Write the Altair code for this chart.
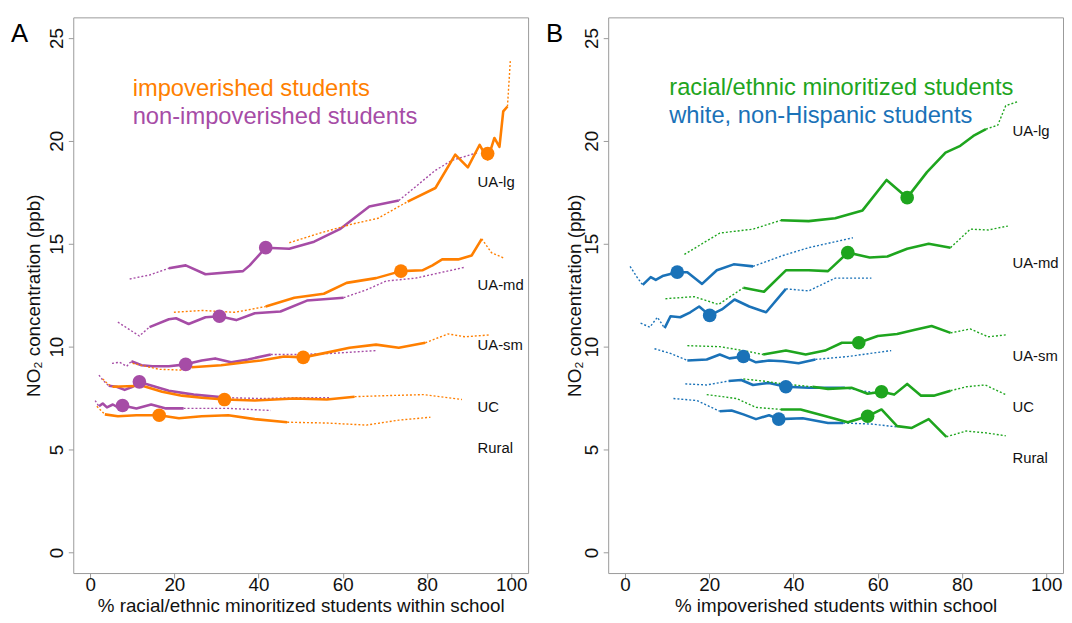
import altair as alt
import pandas as pd

FONT = "Liberation Sans"
COL = {"non": "#a64ca6", "imp": "#ff7f00", "wht": "#1a72b8", "min": "#1ea51e"}

# ---------------- Panel A : x = % racial/ethnic minoritized students ----------------
# non-impoverished students (purple)
A_non_UAlg_x = [9.4, 14.1, 18.7, 22.7, 27.4, 36.3, 37.9, 41.7, 47.3, 53.2, 59.3, 66.3, 73.3, 82.0, 85.9, 92.0]
A_non_UAlg_y = [13.29, 13.48, 13.81, 13.95, 13.52, 13.67, 13.95, 14.81, 14.76, 15.10, 15.71, 16.81, 17.10, 18.57, 19.05, 19.43]
A_non_UAlg_solid = (2, 12)
A_non_UAmd_x = [6.6, 11.7, 14.1, 18.7, 20.4, 23.4, 27.4, 30.7, 34.7, 39.1, 45.2, 51.5, 60.2, 65.6, 70.3, 77.3, 89.0]
A_non_UAmd_y = [11.19, 10.52, 10.95, 11.33, 11.38, 11.10, 11.43, 11.48, 11.29, 11.62, 11.71, 12.24, 12.38, 12.76, 13.19, 13.33, 13.86]
A_non_UAmd_solid = (2, 12)
A_non_UAsm_x = [5.2, 7.0, 8.7, 9.8, 12.2, 14.8, 18.7, 22.7, 26.5, 29.7, 33.5, 37.5, 42.9, 49.9, 56.9, 67.9]
A_non_UAsm_y = [9.19, 9.24, 9.05, 9.29, 9.10, 9.05, 9.05, 9.14, 9.33, 9.43, 9.24, 9.38, 9.62, 9.62, 9.67, 9.81]
A_non_UAsm_solid = (3, 12)
A_non_UC_x = [2.1, 3.0, 4.4, 6.3, 8.2, 10.1, 11.7, 14.1, 18.7, 24.6, 32.8, 41.0, 49.2, 56.9]
A_non_UC_y = [8.62, 8.38, 8.10, 8.05, 7.90, 8.05, 8.29, 8.14, 7.86, 7.67, 7.52, 7.48, 7.52, 7.52]
A_non_UC_solid = (2, 10)
A_non_Rural_x = [1.2, 2.1, 3.0, 4.0, 5.4, 6.6, 7.7, 11.0, 14.5, 18.0, 22.2, 32.8, 42.9]
A_non_Rural_y = [7.38, 7.10, 7.24, 7.05, 7.19, 7.05, 7.14, 7.00, 7.19, 7.00, 7.00, 7.00, 6.90]
A_non_Rural_solid = (1, 10)

# impoverished students (orange)
A_imp_UAlg_x = [47.3, 54.6, 62.1, 68.4, 75.4, 82.0, 86.7, 89.7, 92.5, 94.4, 96.0, 97.2, 98.1, 99.1, 99.8]
A_imp_UAlg_y = [15.05, 15.52, 15.95, 16.24, 17.05, 17.71, 19.33, 18.71, 19.81, 19.10, 20.14, 19.71, 21.43, 21.67, 23.95]
A_imp_UAlg_solid = (4, 13)
A_imp_UAmd_x = [19.9, 26.5, 34.4, 41.7, 48.5, 55.5, 60.9, 67.9, 73.8, 78.9, 81.3, 83.6, 87.4, 90.6, 93.0, 95.3, 98.4]
A_imp_UAmd_y = [11.67, 11.76, 11.67, 11.95, 12.38, 12.57, 13.10, 13.33, 13.67, 13.71, 13.95, 14.24, 14.24, 14.43, 15.24, 14.57, 14.29]
A_imp_UAmd_solid = (3, 14)
A_imp_UAsm_x = [10.1, 16.4, 22.0, 24.1, 31.1, 40.5, 46.1, 50.6, 56.2, 61.6, 67.9, 73.3, 79.6, 85.0, 89.0, 94.8]
A_imp_UAsm_y = [9.19, 8.90, 8.86, 9.00, 9.10, 9.33, 9.52, 9.48, 9.71, 9.95, 10.10, 9.95, 10.19, 10.62, 10.48, 10.57]
A_imp_UAsm_solid = (3, 12)
A_imp_UC_x = [3.0, 4.2, 5.4, 12.4, 17.1, 21.8, 26.5, 31.9, 39.1, 48.5, 56.2, 62.8, 70.3, 79.2, 88.3]
A_imp_UC_y = [8.43, 8.19, 8.05, 8.10, 7.81, 7.62, 7.52, 7.43, 7.38, 7.48, 7.43, 7.57, 7.62, 7.67, 7.43]
A_imp_UC_solid = (2, 11)
A_imp_Rural_x = [1.6, 3.5, 6.6, 11.0, 16.4, 21.1, 26.5, 32.8, 39.1, 46.8, 56.2, 65.6, 73.3, 80.8]
A_imp_Rural_y = [7.10, 6.71, 6.62, 6.67, 6.67, 6.52, 6.62, 6.67, 6.48, 6.33, 6.29, 6.19, 6.43, 6.57]
A_imp_Rural_solid = (1, 9)

# group means (large dots), order UA-lg, UA-md, UA-sm, UC, Rural
A_non_dot_x = [41.7, 30.7, 22.7, 11.7, 7.7]
A_non_dot_y = [14.81, 11.48, 9.14, 8.29, 7.14]
A_imp_dot_x = [94.4, 73.8, 50.6, 31.9, 16.4]
A_imp_dot_y = [19.38, 13.67, 9.48, 7.43, 6.67]

# ---------------- Panel B : x = % impoverished students ----------------
# white, non-Hispanic students (blue)
B_wht_UAlg_x = [1.2, 3.0, 4.2, 6.1, 7.3, 8.9, 12.4, 14.8, 18.3, 21.8, 25.8, 30.4, 37.5, 43.6, 54.1]
B_wht_UAlg_y = [13.90, 13.33, 13.00, 13.38, 13.24, 13.43, 13.62, 13.62, 13.05, 13.71, 14.00, 13.90, 14.43, 14.81, 15.29]
B_wht_UAlg_solid = (2, 11)
B_wht_UAmd_x = [3.7, 5.9, 7.7, 9.4, 10.8, 13.1, 15.5, 17.6, 20.1, 23.0, 26.0, 29.5, 33.5, 38.2, 43.6, 49.9, 58.5]
B_wht_UAmd_y = [11.14, 10.95, 11.43, 10.90, 11.48, 11.43, 11.67, 11.95, 11.52, 11.81, 12.29, 11.95, 11.67, 12.81, 12.71, 13.33, 13.33]
B_wht_UAmd_solid = (3, 13)
B_wht_UAsm_x = [7.0, 10.8, 14.8, 19.4, 22.5, 24.8, 28.1, 31.1, 34.2, 37.5, 41.2, 45.2, 52.9, 63.2]
B_wht_UAsm_y = [9.90, 9.67, 9.33, 9.38, 9.62, 9.43, 9.52, 9.24, 9.33, 9.29, 9.19, 9.38, 9.52, 9.81]
B_wht_UAsm_solid = (2, 11)
B_wht_UC_x = [14.3, 19.4, 24.6, 27.6, 30.4, 34.2, 38.2, 43.6, 52.2, 56.2, 59.3]
B_wht_UC_y = [8.19, 8.14, 8.33, 8.38, 8.14, 8.24, 8.05, 8.00, 8.00, 7.86, 7.76]
B_wht_UC_solid = (2, 8)
B_wht_Rural_x = [11.5, 17.1, 22.5, 25.3, 28.1, 31.1, 34.2, 36.5, 42.2, 48.2, 51.8, 58.5, 64.6]
B_wht_Rural_y = [7.48, 7.38, 6.86, 6.90, 6.71, 6.48, 6.67, 6.48, 6.52, 6.29, 6.29, 6.24, 6.10]
B_wht_Rural_solid = (2, 10)

# racial/ethnic minoritized students (green)
B_min_UAlg_x = [14.1, 22.5, 30.4, 37.0, 43.6, 49.9, 56.4, 62.1, 67.0, 71.7, 76.1, 79.6, 82.7, 85.7, 88.5, 90.4, 93.2]
B_min_UAlg_y = [14.48, 15.52, 15.71, 16.14, 16.10, 16.24, 16.62, 18.10, 17.24, 18.48, 19.43, 19.76, 20.24, 20.57, 20.76, 21.71, 21.90]
B_min_UAlg_solid = (3, 13)
B_min_UAmd_x = [9.6, 16.4, 22.2, 28.1, 33.0, 38.2, 43.6, 48.2, 52.9, 58.1, 62.3, 67.0, 72.1, 77.3, 82.0, 86.2, 90.9]
B_min_UAmd_y = [12.33, 12.43, 12.05, 12.86, 12.67, 13.71, 13.71, 13.67, 14.57, 14.33, 14.38, 14.76, 15.00, 14.81, 15.71, 15.67, 15.86]
B_min_UAmd_solid = (3, 13)
B_min_UAsm_x = [14.8, 22.5, 28.1, 32.8, 38.2, 42.9, 47.5, 51.5, 55.5, 60.0, 64.6, 68.6, 72.8, 77.3, 82.0, 86.2, 90.4]
B_min_UAsm_y = [10.05, 10.00, 9.81, 9.62, 9.81, 9.62, 9.81, 10.19, 10.19, 10.52, 10.62, 10.81, 11.00, 10.67, 10.86, 10.48, 10.57]
B_min_UAsm_solid = (3, 13)
B_min_UC_x = [28.1, 32.8, 37.5, 44.5, 48.2, 53.9, 57.6, 60.9, 63.9, 67.0, 70.3, 73.3, 77.3, 81.0, 85.5, 90.4]
B_min_UC_y = [8.43, 8.33, 8.19, 8.05, 7.95, 8.00, 7.71, 7.81, 7.67, 8.19, 7.62, 7.62, 7.86, 8.05, 8.14, 7.67]
B_min_UC_solid = (3, 12)
B_min_Rural_x = [19.4, 26.5, 31.1, 37.0, 41.7, 46.8, 52.9, 57.6, 60.9, 64.6, 68.1, 72.1, 76.3, 81.0, 85.7, 90.4]
B_min_Rural_y = [7.67, 7.48, 7.05, 6.95, 6.95, 6.67, 6.33, 6.62, 6.95, 6.14, 6.05, 6.48, 5.62, 5.90, 5.81, 5.67]
B_min_Rural_solid = (3, 12)

B_wht_dot_x = [12.4, 20.1, 28.1, 38.2, 36.5]
B_wht_dot_y = [13.62, 11.52, 9.52, 8.05, 6.48]
B_min_dot_x = [67.0, 52.9, 55.5, 60.9, 57.6]
B_min_dot_y = [17.24, 14.57, 10.19, 7.81, 6.62]

# category labels
AREAS = ["UA-lg", "UA-md", "UA-sm", "UC", "Rural"]
A_label_x = [92.0, 92.0, 92.0, 92.0, 92.0]
A_label_y = [18.0, 13.0, 10.1, 7.05, 5.05]
B_label_x = [92.0, 92.0, 92.0, 92.0, 92.0]
B_label_y = [20.5, 14.05, 9.55, 7.05, 4.57]

# legend text
A_legend_text = ["impoverished students", "non-impoverished students"]
A_legend_group = ["imp", "non"]
A_legend_x = [10.1, 10.1]
A_legend_y = [22.2, 20.8]
B_legend_text = ["racial/ethnic minoritized students", "white, non-Hispanic students"]
B_legend_group = ["min", "wht"]
B_legend_x = [10.5, 10.5]
B_legend_y = [22.24, 20.86]

A_series = [
    ("non", "UA-lg", A_non_UAlg_x, A_non_UAlg_y, A_non_UAlg_solid),
    ("non", "UA-md", A_non_UAmd_x, A_non_UAmd_y, A_non_UAmd_solid),
    ("non", "UA-sm", A_non_UAsm_x, A_non_UAsm_y, A_non_UAsm_solid),
    ("non", "UC", A_non_UC_x, A_non_UC_y, A_non_UC_solid),
    ("non", "Rural", A_non_Rural_x, A_non_Rural_y, A_non_Rural_solid),
    ("imp", "UA-lg", A_imp_UAlg_x, A_imp_UAlg_y, A_imp_UAlg_solid),
    ("imp", "UA-md", A_imp_UAmd_x, A_imp_UAmd_y, A_imp_UAmd_solid),
    ("imp", "UA-sm", A_imp_UAsm_x, A_imp_UAsm_y, A_imp_UAsm_solid),
    ("imp", "UC", A_imp_UC_x, A_imp_UC_y, A_imp_UC_solid),
    ("imp", "Rural", A_imp_Rural_x, A_imp_Rural_y, A_imp_Rural_solid),
]
B_series = [
    ("wht", "UA-lg", B_wht_UAlg_x, B_wht_UAlg_y, B_wht_UAlg_solid),
    ("wht", "UA-md", B_wht_UAmd_x, B_wht_UAmd_y, B_wht_UAmd_solid),
    ("wht", "UA-sm", B_wht_UAsm_x, B_wht_UAsm_y, B_wht_UAsm_solid),
    ("wht", "UC", B_wht_UC_x, B_wht_UC_y, B_wht_UC_solid),
    ("wht", "Rural", B_wht_Rural_x, B_wht_Rural_y, B_wht_Rural_solid),
    ("min", "UA-lg", B_min_UAlg_x, B_min_UAlg_y, B_min_UAlg_solid),
    ("min", "UA-md", B_min_UAmd_x, B_min_UAmd_y, B_min_UAmd_solid),
    ("min", "UA-sm", B_min_UAsm_x, B_min_UAsm_y, B_min_UAsm_solid),
    ("min", "UC", B_min_UC_x, B_min_UC_y, B_min_UC_solid),
    ("min", "Rural", B_min_Rural_x, B_min_Rural_y, B_min_Rural_solid),
]


def build_lines(series):
    rows = []
    for group, area, xs, ys, (s, e) in series:
        parts = [("dotted", 0, s, "L"), ("solid", s, e, "M"), ("dotted", e, len(xs) - 1, "R")]
        for style, a, b, tag in parts:
            if b - a >= 1:
                for k in range(a, b + 1):
                    rows.append({"group": group, "seg": f"{group}-{area}-{tag}", "style": style,
                                 "order": k, "x": xs[k], "y": ys[k]})
    return pd.DataFrame(rows)


def dots_df(groups_xy):
    rows = []
    for g, xs, ys in groups_xy:
        for a, x, y in zip(AREAS, xs, ys):
            rows.append({"group": g, "area": a, "x": x, "y": y})
    return pd.DataFrame(rows)


color_scale = alt.Scale(domain=list(COL.keys()), range=list(COL.values()))
W, H = 460, 562


def panel(series, dots, lab_x, lab_y, leg_text, leg_group, leg_x, leg_y, order, letter, xtitle,
          ytitle_pad):
    df = build_lines(series)
    xs = alt.Scale(domain=[-4, 104], nice=False, zero=False)
    ys = alt.Scale(domain=[-1, 26], nice=False, zero=False)
    X = alt.X("x:Q", scale=xs, axis=alt.Axis(values=[0, 20, 40, 60, 80, 100], title=xtitle,
                                             labelFlush=False, tickSize=5, labelPadding=-2,
                                             titlePadding=2))
    Y = alt.Y("y:Q", scale=ys, axis=alt.Axis(values=[0, 5, 10, 15, 20, 25],
                                             title="NO₂ concentration (ppb)",
                                             labelAngle=270, labelAlign="center",
                                             labelBaseline="alphabetic", labelFlush=False,
                                             tickSize=5, labelPadding=6, titlePadding=ytitle_pad))
    layers = []
    for g in order:
        sub_d = df[(df.group == g) & (df["style"] == "dotted")]
        sub_s = df[(df.group == g) & (df["style"] == "solid")]
        layers.append(alt.Chart(sub_d).mark_line(color=COL[g], strokeWidth=1.4, strokeDash=[2, 2])
                      .encode(x=X, y=Y, detail="seg:N", order="order:Q"))
        layers.append(alt.Chart(sub_s).mark_line(color=COL[g], strokeWidth=2.6, strokeJoin="round")
                      .encode(x=X, y=Y, detail="seg:N", order="order:Q"))
    layers.append(alt.Chart(dots).mark_circle(size=190, opacity=1)
                  .encode(x=X, y=Y, color=alt.Color("group:N", scale=color_scale, legend=None)))
    lab = pd.DataFrame({"label": AREAS, "x": lab_x, "y": lab_y})
    layers.append(alt.Chart(lab).mark_text(align="left", baseline="middle", fontSize=15, font=FONT, color="#111")
                  .encode(x=X, y=Y, text="label:N"))
    leg = pd.DataFrame({"label": leg_text, "group": leg_group, "x": leg_x, "y": leg_y})
    layers.append(alt.Chart(leg).mark_text(align="left", baseline="alphabetic", fontSize=24, font=FONT)
                  .encode(x=X, y=Y, text="label:N",
                          color=alt.Color("group:N", scale=color_scale, legend=None)))
    layers.append(alt.Chart(pd.DataFrame({"t": [letter]}))
                  .mark_text(align="left", baseline="top", fontSize=26, font=FONT, color="#000")
                  .encode(x=alt.value(-63), y=alt.value(4), text="t:N"))
    return alt.layer(*layers).properties(width=W, height=H)


A = panel(A_series,
          dots_df([("non", A_non_dot_x, A_non_dot_y), ("imp", A_imp_dot_x, A_imp_dot_y)]),
          A_label_x, A_label_y, A_legend_text, A_legend_group, A_legend_x, A_legend_y,
          ["non", "imp"], "A", "% racial/ethnic minoritized students within school", 4)
B = panel(B_series,
          dots_df([("wht", B_wht_dot_x, B_wht_dot_y), ("min", B_min_dot_x, B_min_dot_y)]),
          B_label_x, B_label_y, B_legend_text, B_legend_group, B_legend_x, B_legend_y,
          ["wht", "min"], "B", "% impoverished students within school", -2)

chart = (
    alt.hconcat(A, B, spacing=16)
    .properties(padding={"left": 2, "top": 5, "right": 0, "bottom": 0}, background="white")
    .configure_view(stroke="#9a9a9a", strokeWidth=1)
    .configure_axis(domain=False, grid=False, tickColor="#9a9a9a", tickWidth=1,
                    labelFont=FONT, labelFontSize=19, labelColor="#111",
                    titleFont=FONT, titleFontSize=19, titleFontWeight="normal", titleColor="#111")
)

chart.save("out.html", embed_options={"renderer": "svg", "actions": False})
